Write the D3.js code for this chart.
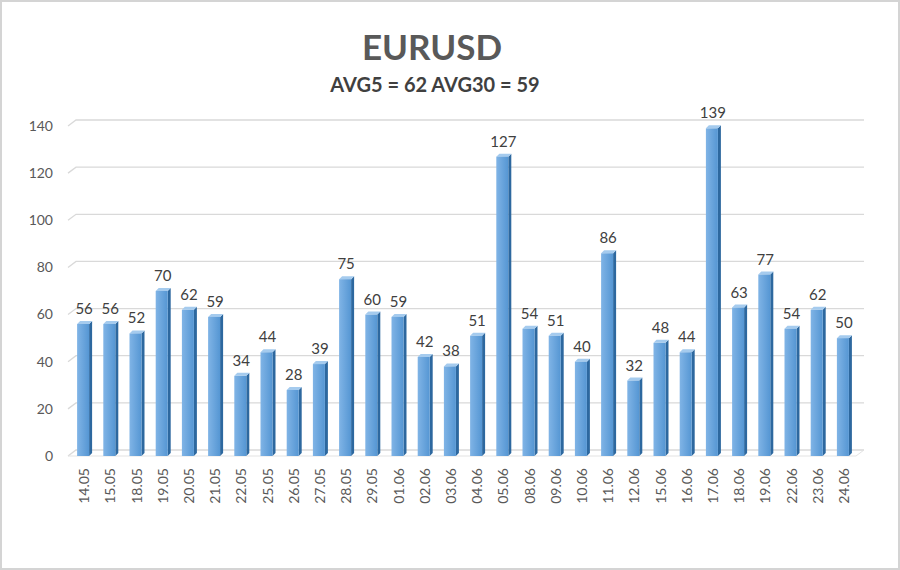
<!DOCTYPE html>
<html>
<head>
<meta charset="utf-8">
<script src="https://cdn.jsdelivr.net/npm/d3@7"></script>
<style>
  body { margin: 0; background: #fff; }
  text { font-family: Lato, "Open Sans", sans-serif; }
</style>
</head>
<body>
<div class="chart"></div>
<script>
const dates = ["14.05","15.05","18.05","19.05","20.05","21.05","22.05","25.05","26.05","27.05",
  "28.05","29.05","01.06","02.06","03.06","04.06","05.06","08.06","09.06","10.06",
  "11.06","12.06","15.06","16.06","17.06","18.06","19.06","22.06","23.06","24.06"]
const values = [56,56,52,70,62,59,34,44,28,39,75,60,59,42,38,51,127,54,51,40,86,32,48,44,139,63,77,54,62,50]
const yTicks = [0,20,40,60,80,100,120,140]

const svg = d3.select(".chart").append("svg")
  .attr("width", 900)
  .attr("height", 570)

// frame
svg.append("rect")
  .attr("x", 1).attr("y", 1).attr("width", 898).attr("height", 568)
  .attr("fill", "#fff").attr("stroke", "#d4d4d4").attr("stroke-width", 2)

const defs = svg.append("defs")
const grad = defs.append("linearGradient").attr("id", "front")
  .attr("x1", "0%").attr("x2", "100%").attr("y1", "0%").attr("y2", "0%")
grad.append("stop").attr("offset", "0%").attr("stop-color", "#80b4e6")
grad.append("stop").attr("offset", "100%").attr("stop-color", "#5596d3")

const x = d3.scaleBand()
  .domain(dates)
  .range([71, 857])

const y = d3.scaleLinear()
  .domain([0, 140])
  .range([456, 126])

const depth = 6, backX = 76, leftX = 68, rightX = 864
const barW = 12, sideW = 3

// gridlines (back wall + slanted side)
const grid = svg.append("g")
yTicks.forEach(t => {
  grid.append("path")
    .attr("d", `M${leftX},${y(t)} L${backX},${y(t) - depth} L${rightX},${y(t) - depth}`)
    .attr("fill", "none")
    .attr("stroke", "#d9d9d9")
    .attr("stroke-width", 1.3)
})
// floor front edge
grid.append("path")
  .attr("d", `M${leftX},${y(0)} L${rightX - 8},${y(0)} L${rightX},${y(0) - depth}`)
  .attr("fill", "none").attr("stroke", "#e3e3e3").attr("stroke-width", 1)

// y labels
svg.append("g").selectAll("text")
  .data(yTicks)
  .enter()
  .append("text")
  .attr("x", 53)
  .attr("y", d => y(d))
  .attr("dy", "0.35em")
  .attr("text-anchor", "end")
  .attr("font-size", "14px")
  .attr("fill", "#595959")
  .text(d => d)

const bars = svg.append("g").selectAll("g")
  .data(values.map((v, i) => ({date: dates[i], val: v})))
  .enter()
  .append("g")
  .attr("transform", d => `translate(${x(d.date) + x.bandwidth() / 2 - barW / 2 - 1},0)`)

// side face
bars.append("path")
  .attr("d", d => `M${barW},${y(d.val)} L${barW + sideW},${y(d.val) - 3} L${barW + sideW},${y(0) - 3} L${barW},${y(0)} Z`)
  .attr("fill", "#2d689f")
// top face
bars.append("path")
  .attr("d", d => `M0,${y(d.val)} L${sideW},${y(d.val) - 3} L${barW + sideW},${y(d.val) - 3} L${barW},${y(d.val)} Z`)
  .attr("fill", "#a5cbee")
// front face
bars.append("rect")
  .attr("x", 0)
  .attr("y", d => y(d.val))
  .attr("width", barW)
  .attr("height", d => y(0) - y(d.val))
  .attr("fill", "url(#front)")

// value labels
bars.append("text")
  .attr("x", barW / 2 + 1)
  .attr("y", d => y(d.val) - 10)
  .attr("text-anchor", "middle")
  .attr("font-size", "15px")
  .attr("fill", "#404040")
  .text(d => d.val)

// x labels
svg.append("g").selectAll("text")
  .data(dates)
  .enter()
  .append("text")
  .attr("transform", d => `translate(${x(d) + x.bandwidth() / 2 + 5},468) rotate(-90)`)
  .attr("text-anchor", "end")
  .attr("font-size", "14px")
  .attr("fill", "#595959")
  .text(d => d)

svg.append("text")
  .attr("x", 432).attr("y", 60)
  .attr("text-anchor", "middle")
  .attr("font-size", "35px")
  .attr("font-weight", "bold")
  .attr("fill", "#595959")
  .text("EURUSD")

svg.append("text")
  .attr("x", 435).attr("y", 92)
  .attr("text-anchor", "middle")
  .attr("font-size", "20px")
  .attr("font-weight", "bold")
  .attr("fill", "#404040")
  .text("AVG5 = 62 AVG30 = 59")
</script>
</body>
</html>
